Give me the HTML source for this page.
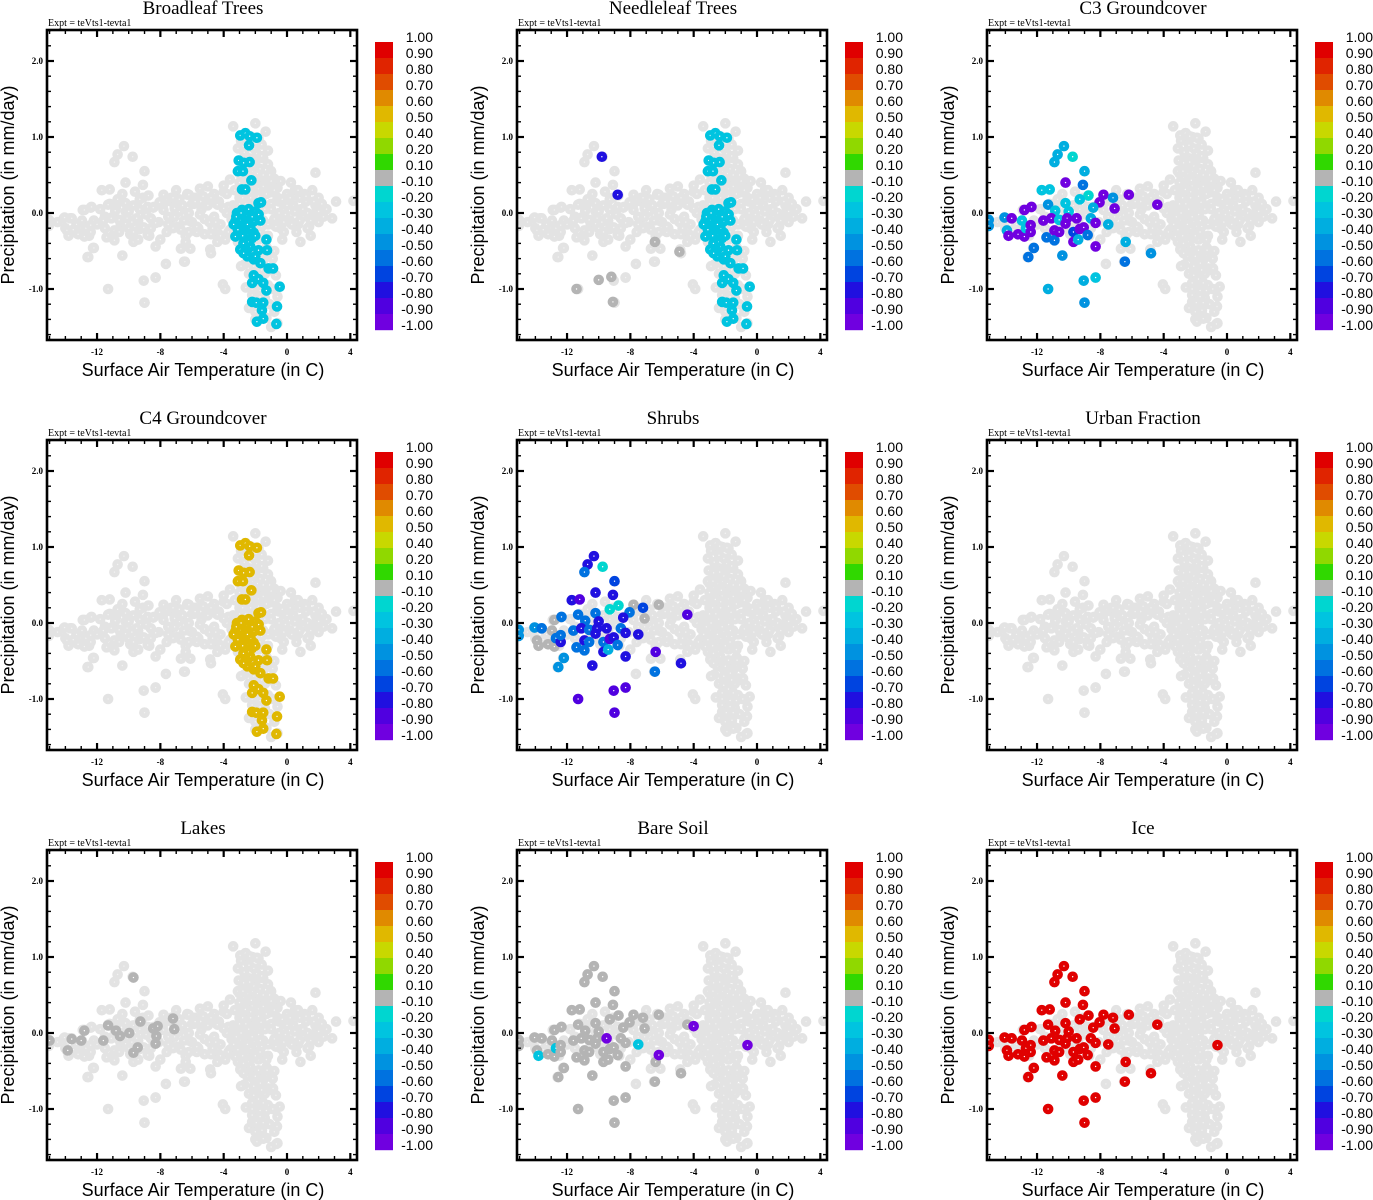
<!DOCTYPE html>
<html><head><meta charset="utf-8"><title>Land cover scatter</title>
<style>
html,body{margin:0;padding:0;background:#fff;}
svg{display:block;}
.ser{font-family:"Liberation Serif",serif;}
.san{font-family:"Liberation Sans",sans-serif;}
</style></head>
<body>
<svg id="fig" width="1373" height="1200" viewBox="0 0 1373 1200" xmlns="http://www.w3.org/2000/svg"></svg>
<script>
// ---- data ----
var panelTitles = ["Broadleaf Trees","Needleleaf Trees","C3 Groundcover","C4 Groundcover","Shrubs","Urban Fraction","Lakes","Bare Soil","Ice"];
var xTicks = [-12,-8,-4,0,4];
var xTickLabels = ["-12","-8","-4","0","4"];
var yTicks = [2,1,0,-1];
var yTickLabels = ["2.0","1.0","0.0","-1.0"];
var cbarLabels = ["1.00","0.90","0.80","0.70","0.60","0.50","0.40","0.20","0.10","-0.10","-0.20","-0.30","-0.40","-0.50","-0.60","-0.70","-0.80","-0.90","-1.00"];
var cbarBounds = [1,0.9,0.8,0.7,0.6,0.5,0.4,0.2,0.1,-0.1,-0.2,-0.3,-0.4,-0.5,-0.6,-0.7,-0.8,-0.9,-1.0];
var cbarColors = ["#e00000","#e02400","#e04c00","#e08a00","#e0b800","#c8d800","#90d800","#30d800","#b4b4b4","#00d6d0","#00c4e0","#00aee0","#0092e0","#0072e0","#0044e0","#2010e0","#5000e0","#7000e0"];

// background cloud (temperature, precipitation)
var cloudX = [-2.0,-3.4,-1.35,-2.6,-2.2,-1.8,-2.9,-2.4,-1.6,-2.1,-1.2,-2.7,-1.9,-2.4,-1.5,-2.9,-2.0,-1.2,-2.6,-1.7,-2.2,-1.0,-3.0,-1.5,-2.4,-1.9,-0.8,-2.8,-1.3,-2.2,-1.7,-0.6,-2.9,-2.4,-1.1,
 -2.5,-1.8,-1.2,-2.2,-1.5,-0.9,-2.7,-1.9,-1.1,-2.3,-1.6,-0.7,-2.0,-1.3,-2.6,-1.7,-0.9,-2.2,-1.4,-0.6,-1.9,-1.1,-2.4,-1.6,-0.8,-1.3,-2.0,-0.6,-1.0,
 -15.0,-14.1,-13.7,-14.0,-13.3,-12.9,-12.4,-12.8,-12.2,-11.8,-11.5,-11.2,-11.0,-10.7,-10.5,-10.2,-9.9,-9.7,-9.4,-9.1,-8.9,-8.6,-8.4,-8.1,-7.8,-7.6,-7.3,-7.1,-6.9,-6.6,-6.4,-6.2,-6.0,-5.8,-5.6,-5.4,-5.2,-5.0,-4.8,-4.6,-4.4,-4.2,-4.0,-3.8,-3.6,-3.4,-3.2,-3.0,-2.8,-2.6,-2.4,-2.2,-2.0,-1.8,-1.6,-1.4,-1.2,-1.0,-0.8,-0.6,-0.4,-0.2,0.0,0.2,0.4,0.6,0.8,1.0,1.2,1.4,1.6,1.8,2.0,2.2,2.5,2.85,3.1,4.2,0.25,1.8,0.85,-0.3,-4.4,-5.5,-7.0,-8.0,-12.5,-13.5,
 -4.0,-3.6,-9.0,-8.3,-7.65,-6.5,-6.7,-6.1,-4.85,-4.05,-3.9,-12.6,-12.25,-6.3,-5.2,-4.6,-3.9,-3.3,-0.2,0.5,1.1,1.5,0.3,-0.5,0.9,-0.9,-3.1,-4.3,-5.0,-5.7,-6.8,-7.4,-1.4,-0.4,0.1,0.7,1.3,2.0,-2.3,-1.6,-0.3,-0.9,-1.6,-2.6,-3.7,-4.9,-5.9,-6.2,-3.3,-0.1,
 -7.5,-7.0,-6.5,-6.0,-5.5,-5.0,-4.5,-4.0,-3.5,-3.0,-2.5,-2.0,-1.5,-1.0,-0.5,0.0,0.5,1.0,1.5,2.0,
 -7.2,-6.7,-6.2,-5.7,-5.2,-4.7,-4.2,-3.7,-3.2,-2.7,-2.2,-1.7,-1.2,-0.7,-0.2,0.3,0.8,1.3,1.8,2.3,
 -7.8,-7.3,-6.8,-6.3,-5.8,-5.3,-4.8,-4.3,-3.8,-3.3,-2.8,-2.3,-1.8,-1.3,-0.8,-0.3,0.2,0.7,1.2,1.7,
 -3.1,-2.6,-2.1,-1.6,-1.1,-3.0,-2.5,-2.0,-1.5,-1.0,-2.8,-2.3,-1.8,-1.3,-2.9,-2.4,-1.9,-1.4,-2.2,-1.7,-1.2,-2.0,-1.5,-1.8,-1.3,-2.1,-1.6,-0.8,
 -11.5,-10.8,-10.0,-9.3,-8.7,-12.0,-11.0,-9.8,-8.8,-13.0,-14.5,-10.4,-9.6];
var cloudY = [1.18,1.14,1.07,1.05,1.0,0.98,0.95,0.9,0.9,0.85,0.82,0.8,0.78,0.72,0.72,0.68,0.66,0.64,0.6,0.58,0.55,0.55,0.52,0.5,0.47,0.44,0.45,0.4,0.38,0.36,0.32,0.33,0.3,0.27,0.27,
 -0.45,-0.5,-0.48,-0.58,-0.62,-0.6,-0.68,-0.72,-0.75,-0.8,-0.85,-0.82,-0.92,-0.95,-0.98,-1.02,-1.0,-1.08,-1.12,-1.1,-1.18,-1.2,-1.25,-1.3,-1.3,-1.38,-1.4,-1.45,-1.5,
 -0.1,-0.07,-0.07,-0.2,-0.15,0.04,0.07,-0.25,-0.1,0.05,-0.2,0.12,-0.05,0.18,-0.15,0.02,-0.28,0.1,-0.1,0.2,-0.02,-0.2,0.08,-0.12,0.04,-0.25,0.15,-0.05,-0.18,0.1,-0.3,0.0,-0.12,0.2,-0.2,0.05,-0.08,0.18,-0.28,-0.05,0.12,-0.15,0.28,0.0,-0.22,0.1,-0.1,0.2,-0.05,0.05,-0.2,0.15,-0.05,0.22,-0.18,0.05,-0.3,0.12,-0.08,0.2,-0.2,0.05,0.25,-0.1,0.1,-0.25,0.2,-0.05,0.15,-0.18,0.3,0.0,-0.12,0.12,0.05,-0.07,0.15,0.16,0.4,0.53,-0.38,-0.35,-0.38,0.32,0.3,-0.35,-0.3,-0.22,
 0.36,0.44,-1.18,-0.85,-0.67,-0.64,-0.47,-0.47,-0.48,-0.94,-1.0,-0.58,-0.46,0.24,0.1,0.25,-0.35,-0.3,-0.25,0.3,0.25,-0.3,-0.15,0.15,0.05,0.3,-0.38,-0.28,0.35,-0.25,0.02,-0.1,0.4,0.42,0.12,-0.15,0.0,0.2,0.2,0.15,-0.05,-0.15,-0.3,0.12,0.08,-0.12,0.12,-0.1,0.05,-0.02,
 -0.05,0.08,-0.1,0.12,-0.02,0.1,-0.12,0.06,-0.08,0.12,0.0,0.1,-0.1,0.05,0.0,0.1,0.02,0.05,-0.1,0.02,
 -0.2,-0.22,-0.25,-0.18,-0.28,-0.2,-0.3,-0.25,-0.2,-0.15,-0.22,-0.25,-0.15,-0.18,-0.12,-0.15,-0.1,-0.2,0.1,-0.05,
 0.12,0.2,0.18,0.25,0.15,0.22,0.2,0.15,0.25,0.3,0.2,0.28,0.32,0.25,0.3,0.18,0.2,0.3,0.22,0.15,
 0.85,0.7,0.62,0.75,0.5,0.4,0.52,0.45,0.35,0.42,-0.4,-0.55,-0.65,-0.55,-0.7,-0.8,-0.9,-0.8,-1.0,-1.1,-0.95,-1.3,-1.22,-0.35,-0.45,-0.7,-0.75,-0.5,
 -0.05,0.08,-0.2,0.05,-0.3,-0.15,-0.3,-0.12,0.08,-0.2,-0.12,0.25,0.28];

// column cluster (used by tree / C4 panels)
var colX = [-2.95,-2.63,-2.36,-1.9,-2.4,-3.05,-2.74,-2.36,-3.1,-2.78,-2.25,-2.84,-2.63,-1.8,-1.64,-3.26,-3.16,-2.84,-2.42,-2.0,-3.37,-2.95,-2.53,-2.1,-1.79,-3.26,-2.95,-2.53,-2.1,-2.63,-2.21,-1.68,-1.3,-2.95,-2.5,-1.8,-1.26,-2.5,-2.1,-1.68,-1.16,-0.88,-2.1,-1.8,-2.2,-1.5,-1.3,-0.46,-2.2,-1.94,-1.5,-0.63,-1.58,-1.5,-1.9,-0.67,-2.32,-2.74,-2.0,-3.0,-2.7,-2.3,-2.0,-3.2,-2.9,-2.6,-3.1,-2.8,-2.5,-2.2,-2.45,-2.75];
var colY = [1.02,1.05,1.01,0.99,0.89,0.69,0.66,0.67,0.55,0.55,0.43,0.31,0.31,0.13,0.14,-0.11,0.0,0.04,0.05,0.02,-0.15,-0.09,-0.04,-0.11,-0.02,-0.31,-0.26,-0.22,-0.26,-0.35,-0.33,-0.1,-0.35,-0.48,-0.48,-0.49,-0.49,-0.57,-0.61,-0.66,-0.73,-0.73,-0.82,-0.87,-0.92,-0.92,-1.02,-0.97,-1.17,-1.18,-1.18,-1.23,-1.28,-1.39,-1.43,-1.46,-0.44,-0.53,-0.57,-0.2,-0.15,-0.2,-0.3,-0.05,0.0,-0.1,-0.22,-0.3,-0.15,-0.05,-0.38,-0.4];
var broadleafVals = colX.map(function(){return -0.25;});
var c4Vals = colX.map(function(){return 0.55;});

// left cluster (cold points)
var leftX = [-10.3,-10.7,-10.9,-9.75,-9.0,-10.2,-9.1,-11.7,-11.2,-8.75,-7.8,-6.2,-7.2,-9.3,-11.3,-10.2,-8.05,-4.4,-12.8,-12.35,-10.85,-10.0,-8.45,-7.1,-14.05,-13.6,-12.95,-15.05,-15.05,-11.6,-11.1,-10.6,-10.1,-9.5,-8.6,-8.3,-7.5,-13.9,-13.8,-13.2,-12.8,-12.7,-12.4,-12.4,-11.4,-10.9,-10.9,-10.6,-10.2,-9.7,-9.7,-9.4,-9.3,-9.05,-8.8,-8.3,-12.2,-12.55,-10.4,-6.4,-6.45,-4.8,-8.3,-9.05,-11.3,-9.0,-0.6,-4.0,-6.2];
var leftY = [0.88,0.77,0.67,0.74,0.55,0.4,0.37,0.3,0.31,0.23,0.24,0.24,0.2,0.18,0.11,0.13,0.14,0.11,0.04,0.08,0.03,0.02,0.07,0.06,-0.06,-0.07,-0.1,-0.09,-0.17,-0.1,-0.07,-0.09,-0.07,-0.07,-0.07,-0.13,-0.15,-0.23,-0.3,-0.28,-0.31,-0.2,-0.25,-0.16,-0.32,-0.23,-0.36,-0.25,-0.14,-0.25,-0.38,-0.35,-0.21,-0.19,-0.29,-0.44,-0.46,-0.58,-0.56,-0.38,-0.64,-0.53,-0.85,-0.89,-1.0,-1.18,-0.16,0.09,-0.29];
var c3Vals = [-0.35,-0.35,-0.35,-0.15,-0.35,-0.95,-0.55,-0.3,-0.3,-0.15,-0.95,-0.95,-0.5,-0.3,-0.5,-0.3,-0.95,-0.95,-0.95,-0.95,-0.3,-0.3,-0.4,-0.95,-0.5,-0.95,-0.3,-0.5,-0.5,-0.95,-0.95,-0.3,-0.95,-0.95,-0.4,-0.95,-0.4,-0.35,-0.95,-0.95,-0.95,-0.3,-0.95,-0.95,-0.55,-0.95,-0.6,-0.95,-0.95,-0.65,-0.95,-0.35,-0.95,-0.95,-0.55,-0.95,-0.55,-0.55,-0.5,-0.35,-0.55,-0.45,-0.3,-0.4,-0.35,-0.45,null,null,null];
var shrubVals = [-0.75,-0.75,-0.55,-0.15,-0.65,-0.75,-0.75,-0.75,-0.85,-0.15,-0.05,-0.05,-0.65,-0.15,-0.55,-0.55,-0.55,-0.85,-0.05,-0.55,-0.55,-0.75,-0.75,-0.05,-0.45,-0.55,-0.05,-0.45,-0.45,-0.55,-0.75,-0.55,-0.75,-0.75,-0.55,-0.75,-0.75,-0.05,-0.05,-0.05,-0.05,-0.55,-0.75,-0.55,-0.55,-0.75,-0.55,-0.55,-0.75,-0.55,-0.75,-0.35,-0.85,-0.75,-0.55,-0.75,-0.45,-0.45,-0.75,-0.85,-0.55,-0.75,-0.85,-0.85,-0.85,-0.85,null,null,null];
var soilVals = leftX.map(function(v,i){return i<66?-0.05:-0.95;});
soilVals[38]=-0.25; soilVals[41]=-0.25; soilVals[36]=-0.25; soilVals[33]=-0.95;
var iceVals = leftX.map(function(v,i){return i<67?0.95:null;});

// needleleaf extras
var needleX = [-9.8,-8.8,-6.45,-4.9,-9.2,-10.0,-9.1,-11.4];
var needleY = [0.74,0.24,-0.38,-0.51,-0.84,-0.88,-1.17,-1.0];
var needleVals = [-0.75,-0.75,-0.05,-0.05,-0.05,-0.05,-0.05,-0.05];

// lakes
var lakeX = [-9.7,-9.26,-11.3,-12.8,-13.6,-13.0,-13.85,-11.6,-10.8,-10.55,-9.96,-9.43,-9.7,-8.45,-8.17,-8.25,-8.3,-7.2,-7.12,-15.0];
var lakeY = [0.73,0.15,0.1,0.03,-0.08,-0.1,-0.23,-0.1,0.03,-0.04,0.0,-0.19,-0.26,0.06,0.09,-0.04,-0.14,0.19,0.05,-0.1];
var lakeVals = lakeX.map(function(){return -0.05;});

// ---- drawing ----
var NS = "http://www.w3.org/2000/svg";
var svg = document.getElementById("fig");
function mk(tag, attrs, parent){ var e=document.createElementNS(NS,tag); for(var k in attrs) e.setAttribute(k,attrs[k]); (parent||svg).appendChild(e); return e; }
function colorFor(v){
  for(var i=0;i<cbarColors.length;i++){ if(v<=cbarBounds[i] && v>=cbarBounds[i+1]) return cbarColors[i]; }
  return cbarColors[cbarColors.length-1];
}
var panelSets = [
  [{x:colX,y:colY,v:broadleafVals}],
  [{x:colX,y:colY,v:broadleafVals},{x:needleX,y:needleY,v:needleVals}],
  [{x:leftX,y:leftY,v:c3Vals}],
  [{x:colX,y:colY,v:c4Vals}],
  [{x:leftX,y:leftY,v:shrubVals}],
  [],
  [{x:lakeX,y:lakeY,v:lakeVals}],
  [{x:leftX,y:leftY,v:soilVals}],
  [{x:leftX,y:leftY,v:iceVals}]
];
var PR = 3.0, PW = 4.6;

panelTitles.forEach(function(title, p){
  var ox = (p%3)*470, oy = Math.floor(p/3)*410;
  var L = ox+47, T = oy+30, W = 310, H = 310;
  var sx = function(x){ return ox+287+x*15.83; };
  var sy = function(y){ return oy+213-y*76; };
  var g = mk("g",{});
  
  
  var t = mk("text",{x:ox+203,y:oy+14,"text-anchor":"middle","font-size":"19",class:"ser"},g); t.textContent=title;
  
  
  var e = mk("text",{x:L+1,y:oy+26,"font-size":"10",class:"ser"},g); e.textContent="Expt = teVts1-tevta1";
  
  
  var cid = "clip"+p;
  var cp = mk("clipPath",{id:cid},g); mk("rect",{x:L,y:T,width:W,height:H},cp);
  var pts = mk("g",{"clip-path":"url(#"+cid+")"},g);
  
  
  var allX = cloudX.concat(colX, leftX.slice(0,66)), allY = cloudY.concat(colY, leftY.slice(0,66));
  for (var i=0;i<allX.length;i++){
    var c = mk("circle",{cx:sx(allX[i]),cy:sy(allY[i]),r:PR,fill:"#f2f2f2",stroke:"#e3e3e3","stroke-width":PW},pts);
    
    
  }
  panelSets[p].forEach(function(s){
    for (var i=0;i<s.x.length;i++){
      if (s.v[i]===null) continue;
      var c = mk("circle",{cx:sx(s.x[i]),cy:sy(s.y[i]),r:PR,fill:"#ffffff",stroke:colorFor(s.v[i]),"stroke-width":PW},pts);
      
      
    }
  });
  var fr = mk("rect",{x:L,y:T,width:W,height:H,fill:"none",stroke:"#000","stroke-width":2.6},g);
  
  
  for (var xv=-15; xv<=4; xv++){
    var major = xTicks.indexOf(xv)>=0, len = major?7:4, X = sx(xv);
    mk("line",{x1:X,x2:X,y1:T+H,y2:T+H-len,stroke:"#000","stroke-width":major?2.2:1.4},g);
    mk("line",{x1:X,x2:X,y1:T,y2:T+len,stroke:"#000","stroke-width":major?2.2:1.4},g);
  }
  xTicks.forEach(function(v,i){
    var tl = mk("text",{x:sx(v),y:T+H+15,"text-anchor":"middle","font-size":"9","font-weight":"bold",class:"ser"},g); tl.textContent=xTickLabels[i];
    
    
  });
  for (var k=-8; k<=12; k++){
    var yv = k*0.2, major = (k%5===0), len = major?7:4, Y = sy(yv);
    mk("line",{x1:L,x2:L+len,y1:Y,y2:Y,stroke:"#000","stroke-width":major?2.2:1.4},g);
    mk("line",{x1:L+W,x2:L+W-len,y1:Y,y2:Y,stroke:"#000","stroke-width":major?2.2:1.4},g);
  }
  yTicks.forEach(function(v,i){
    var tl = mk("text",{x:L-4,y:sy(v)+3,"text-anchor":"end","font-size":"9","font-weight":"bold",class:"ser"},g); tl.textContent=yTickLabels[i];
    
    
  });
  var xl = mk("text",{x:ox+203,y:oy+376,"text-anchor":"middle","font-size":"18",class:"san"},g); xl.textContent="Surface Air Temperature (in C)";
  
  
  var yl = mk("text",{x:0,y:0,"text-anchor":"middle","font-size":"18",class:"san",transform:"translate("+(ox+14)+","+(oy+185)+") rotate(-90)"},g); yl.textContent="Precipitation (in mm/day)";
  
  
  var cb = mk("g",{},g);
  
  
  cbarColors.forEach(function(col,i){
    var r = mk("rect",{x:ox+375,y:oy+42+i*16,width:18,height:16.2,fill:col},cb);
    
    
  });
  cbarLabels.forEach(function(lab,i){
    var tl = mk("text",{x:ox+433,y:oy+42+i*16,"text-anchor":"end","font-size":"14",class:"san"},cb); tl.textContent=lab;
    
    
  });
});
</script>
</body></html>
